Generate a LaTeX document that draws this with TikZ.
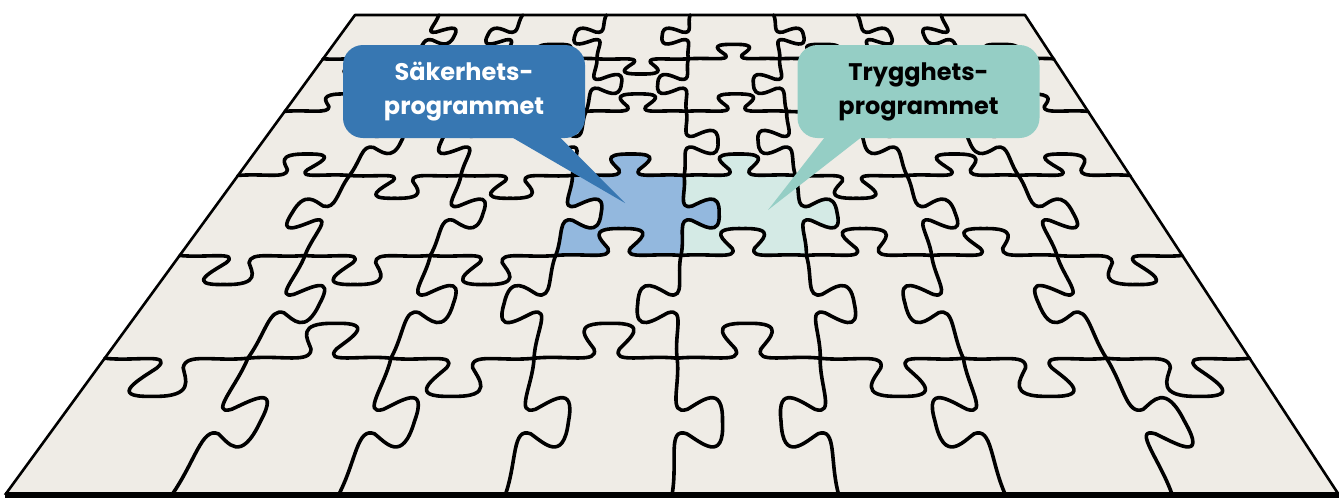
\documentclass[tikz,border=0pt]{standalone}
\usepackage{fontspec}
\usepackage[usenames,dvipsnames]{xcolor}
\newfontfamily\pzsans{Poppins}

\definecolor{board}{HTML}{EFECE6}
\definecolor{sakblue}{HTML}{3777B2}
\definecolor{sakpiece}{HTML}{93B8DE}
\definecolor{trygteal}{HTML}{95CEC5}
\definecolor{trygpiece}{HTML}{D4EAE5}

% board (u,v) -> picture, 8 x 6 pieces seen in perspective
\def\pzproject#1,#2\relax{%
  \pgfmathsetmacro\pzY{15+480*(1/(1-0.083*(#2))-1)/0.992}%
  \pgfmathsetmacro\pzF{(\pzY-15)/480}%
  \pgfmathsetmacro\pzX{355-350*\pzF+(#1)/8*(670+664*\pzF)}%
  \pgfpointxy{\pzX}{\pzY}}
\tikzdeclarecoordinatesystem{bd}{\pzproject#1\relax}

% point (a,b) along / across the current edge
\def\pzlocal#1,#2\relax{%
  \pgfmathsetmacro\pzA{\pzU+(#1)*(\pzDU)+(#2)*(\pzS)*(\pzDV)}%
  \pgfmathsetmacro\pzB{\pzV+(#1)*(\pzDV)+(#2)*(\pzS)*(\pzDU)}%
  \pzproject\pzA,\pzB\relax}
\tikzdeclarecoordinatesystem{pz}{\pzlocal#1\relax}

\newcommand\pzseg[5]{\pgfextra{\xdef\pzU{#1}\xdef\pzV{#2}\xdef\pzDU{#3}\xdef\pzDV{#4}\xdef\pzS{#5}}
  .. controls (pz cs:0.22,0.03) and (pz cs:0.46,-0.05) .. (pz cs:0.41,0.08)
  .. controls (pz cs:0.35,0.17) and (pz cs:0.20,0.32) .. (pz cs:0.50,0.31)
  .. controls (pz cs:0.80,0.32) and (pz cs:0.65,0.17) .. (pz cs:0.59,0.08)
  .. controls (pz cs:0.54,-0.05) and (pz cs:0.78,0.03) .. (pz cs:1,0)}

\tikzset{
  pzline/.style={line width=1.8pt, line cap=round, line join=round},
  bubble/.style={rectangle, rounded corners=10pt, minimum width=121pt,
    minimum height=46.5pt, inner sep=0pt, align=center,
    font=\pzsans\bfseries\fontsize{12}{17}\selectfont}
}

\begin{document}
\begin{tikzpicture}[x=0.5pt, y=-0.5pt]
\useasboundingbox (0,0) rectangle (1339,499);

\coordinate (TL) at (bd cs:0,0);
\coordinate (TR) at (bd cs:8,0);
\coordinate (BR) at (bd cs:8,6);
\coordinate (BL) at (bd cs:0,6);

\fill[board] (TL) -- (TR) -- (BR) -- (BL) -- cycle;

\fill[sakpiece] (bd cs:3,3) \pzseg{3}{3}{1}{0}{-1} \pzseg{4}{3}{0}{1}{1}
  \pzseg{4}{4}{-1}{0}{1} \pzseg{3}{4}{0}{-1}{-1} -- cycle;
\fill[trygpiece] (bd cs:4,3) \pzseg{4}{3}{1}{0}{-1} \pzseg{5}{3}{0}{1}{1}
  \pzseg{5}{4}{-1}{0}{1} \pzseg{4}{4}{0}{-1}{-1} -- cycle;

% vertical edges, +1 = tab to the right
\foreach \signs [count=\r from 0] in {{1,-1,-1,-1,1,1,-1},{1,-1,1,-1,-1,1,-1},
    {1,-1,-1,1,-1,-1,-1},{-1,1,1,1,1,1,1},{1,1,-1,-1,1,-1,-1},{1,1,1,1,-1,-1,1}}{
  \foreach \s [count=\c] in \signs
    \draw[pzline] (bd cs:\c,\r) \pzseg{\c}{\r}{0}{1}{\s};
}
% horizontal edges, +1 = tab downwards
\foreach \signs [count=\r] in {{1,1,-1,1,-1,-1,1,-1},{-1,1,-1,-1,-1,1,-1,-1},
    {-1,1,1,-1,-1,1,-1,-1},{1,1,1,-1,-1,-1,-1,1},{1,-1,1,-1,-1,1,1,1}}{
  \foreach \s [count=\c from 0] in \signs
    \draw[pzline] (bd cs:\c,\r) \pzseg{\c}{\r}{1}{0}{\s};
}

\draw[line width=1.3pt, line join=round] (BL) -- (TL) -- (TR) -- (BR);
\draw[line width=3pt] (BL) -- (BR);

\node[bubble, fill=sakblue, text=white] (sak) at (464,91.5) {Säkerhets-\\programmet};
\node[bubble, fill=trygteal, text=black] (tryg) at (918.5,91.5) {Trygghets-\\programmet};

\coordinate (sakTip) at (625,203);
\coordinate (trygTip) at (768,210);

\fill[sakblue] ([xshift=21.5pt,yshift=2pt]sak.south) -- ([xshift=46.5pt,yshift=2pt]sak.south) -- (sakTip) -- cycle;
\fill[trygteal] ([xshift=-45.75pt,yshift=2pt]tryg.south) -- ([xshift=-26.75pt,yshift=2pt]tryg.south) -- (trygTip) -- cycle;

\end{tikzpicture}
\end{document}
